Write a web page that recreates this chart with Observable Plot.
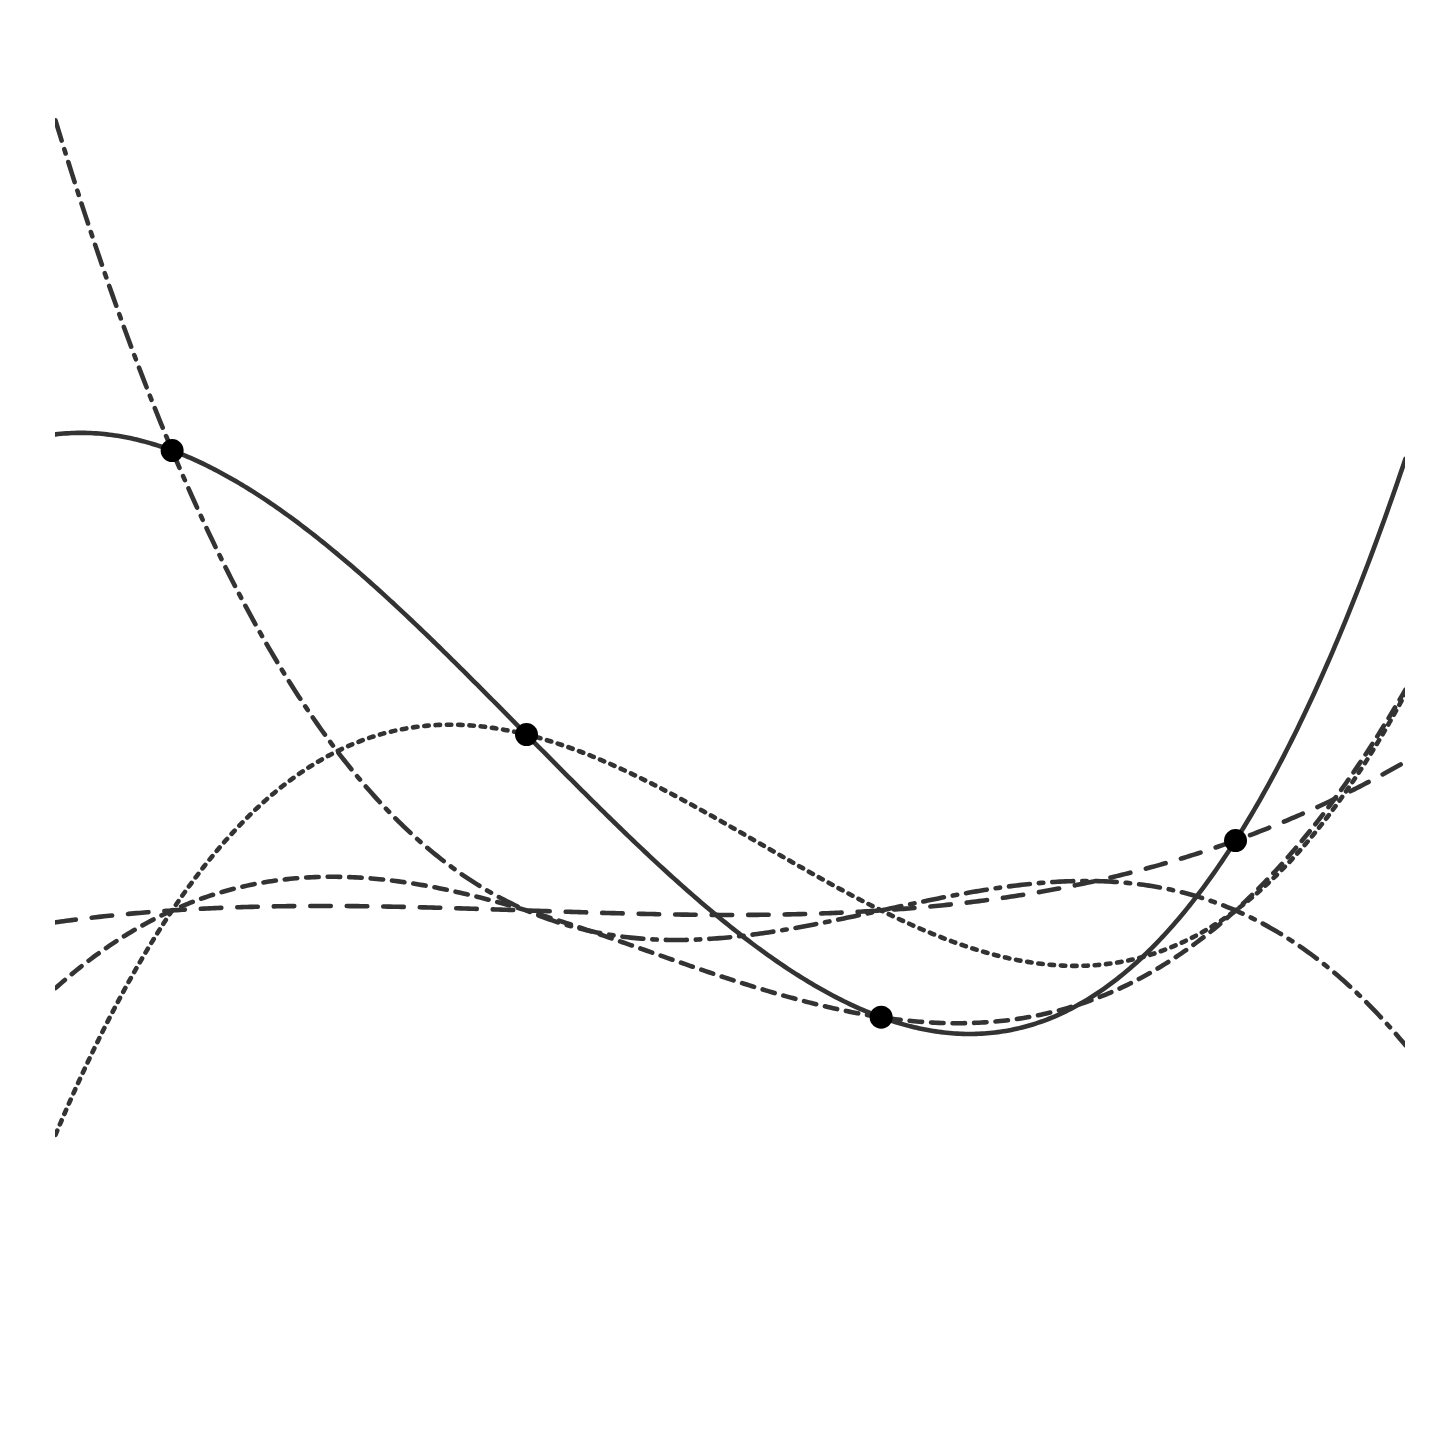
<!DOCTYPE html>
<html>
<head>
<meta charset="utf-8">
<script src="https://cdn.jsdelivr.net/npm/d3@7"></script>
<script src="https://cdn.jsdelivr.net/npm/@observablehq/plot@0.6"></script>
<style>
  html, body { margin: 0; padding: 0; background: #fff; }
  #chart svg { display: block; }
</style>
</head>
<body>
<div id="chart"></div>
<script>
// Interpolation nodes
const xNodes = [0.0864, 0.3489, 0.6116, 0.8741];
const yNodes = [0.7074, 0.4970, 0.2876, 0.4185];
// Zero level around which the weighted basis polynomials are drawn
const baseline = 0.3667;
// Line style of each basis polynomial (node 1..4)
const dashPatterns = ["21,9,4.5,9", "4.5,6.8", "12.5,9", "20.5,16"];

// Lagrange basis polynomial i evaluated at x
function basis(i, x) {
  let v = 1;
  for (let j = 0; j < xNodes.length; j++) {
    if (j !== i) v *= (x - xNodes[j]) / (xNodes[i] - xNodes[j]);
  }
  return v;
}

const xs = d3.range(0, 1.00001, 0.002);
const basisCurves = xNodes.map((_, i) =>
  xs.map(x => ({x, y: baseline + (yNodes[i] - baseline) * basis(i, x)}))
);
const interp = xs.map(x => ({x, y: d3.sum(xNodes, (_, i) => yNodes[i] * basis(i, x))}));
const nodes = xNodes.map((x, i) => ({x, y: yNodes[i]}));

const chart = Plot.plot({
  width: 1456,
  height: 1456,
  marginLeft: 55,
  marginRight: 51,
  marginTop: 55,
  marginBottom: 51,
  x: {domain: [0, 1], axis: null},
  y: {domain: [0, 1], axis: null},
  style: {background: "#fff"},
  marks: [
    ...basisCurves.map((c, i) => Plot.line(c, {
      x: "x", y: "y", stroke: "#333", strokeWidth: 4.6,
      strokeDasharray: dashPatterns[i], clip: true
    })),
    Plot.line(interp, {x: "x", y: "y", stroke: "#333", strokeWidth: 4.6, clip: true}),
    Plot.dot(nodes, {x: "x", y: "y", r: 11.5, fill: "#000", stroke: "none"})
  ]
});
document.getElementById("chart").appendChild(chart);
</script>
</body>
</html>
